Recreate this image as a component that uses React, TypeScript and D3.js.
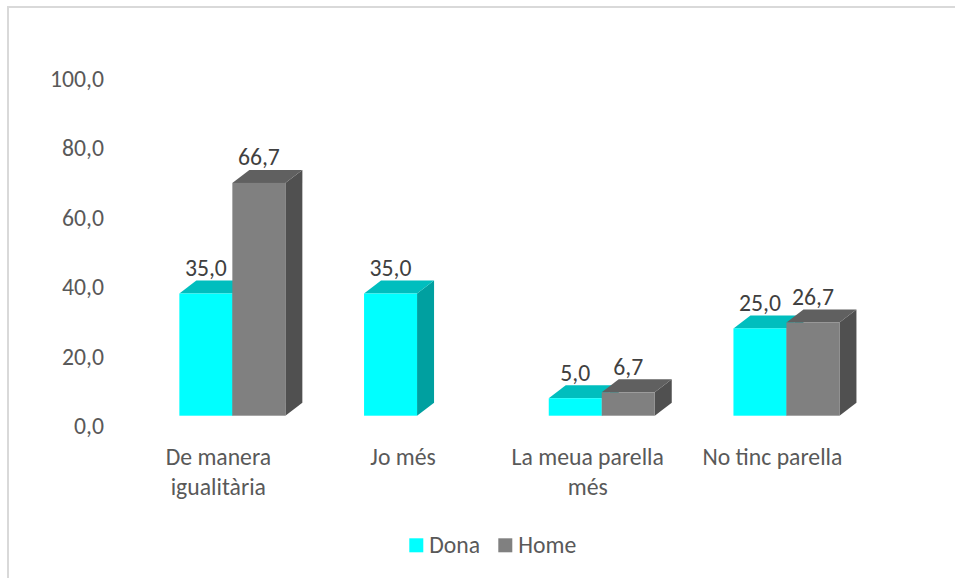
import React from "react";
import * as d3 from "d3";

const categories = ["De manera igualitària", "Jo més", "La meua parella més", "No tinc parella"];
const categoryLines = [["De manera", "igualitària"], ["Jo més"], ["La meua parella", "més"], ["No tinc parella"]];
const seriesNames = ["Dona", "Home"];
const donaValues: (number | null)[] = [35.0, 35.0, 5.0, 25.0];
const homeValues: (number | null)[] = [66.7, null, 6.7, 26.7];
const yTicks = [0, 20, 40, 60, 80, 100];

const W = 955;
const H = 578;
const FONT = "Carlito, Calibri, 'Open Sans', sans-serif";
const FS = 23.7;

const colors = [
  { front: "#00FFFF", top: "#00BEBE", side: "#00A0A0", legend: "#00FFFF" },
  { front: "#808080", top: "#606060", side: "#505050", legend: "#808080" },
];

export default function App() {
  const x = d3.scaleBand<string>().domain(categories).range([140, 878.8]).paddingInner(0).paddingOuter(0);
  const inner = d3.scaleBand<string>().domain(seriesNames).range([0, 106]);
  const yBar = d3.scaleLinear().domain([0, 100]).range([415.7, 66.7]);
  const yLab = d3.scaleLinear().domain([0, 100]).range([426.8, 79.3]);
  const dx = 17;
  const dy = 13;
  const series = [donaValues, homeValues];

  const bars: React.ReactNode[] = [];
  const labels: React.ReactNode[] = [];
  categories.forEach((c, ci) => {
    const groupStart = (x(c) as number) + x.bandwidth() / 2 - 53;
    series.forEach((vals, si) => {
      const v = vals[ci];
      if (v == null) return;
      const x0 = groupStart + (inner(seriesNames[si]) as number);
      const x1 = x0 + inner.bandwidth();
      const yt = yBar(v);
      const yb = yBar(0);
      const col = colors[si];
      bars.push(
        <g key={`b${ci}-${si}`}>
          <path d={`M${x1},${yt} L${x1 + dx},${yt - dy} L${x1 + dx},${yb - dy} L${x1},${yb} Z`} fill={col.side} />
          <path d={`M${x0},${yt} L${x0 + dx},${yt - dy} L${x1 + dx},${yt - dy} L${x1},${yt} Z`} fill={col.top} />
          <rect x={x0} y={yt} width={x1 - x0} height={yb - yt} fill={col.front} />
        </g>
      );
      labels.push(
        <text key={`l${ci}-${si}`} x={(x0 + x1) / 2} y={yt - 25 + 7.5} textAnchor="middle" fontSize={FS} fill="#404040" fontFamily={FONT}>
          {v.toFixed(1).replace(".", ",")}
        </text>
      );
    });
  });

  return (
    <svg width={W} height={H} style={{ position: "absolute", left: 0, top: 0, background: "#fff" }}>
      <rect x={0} y={0} width={W} height={H} fill="#fff" />
      <rect x={8} y={7} width={W + 20} height={H + 20} fill="none" stroke="#d9d9d9" strokeWidth={2} />
      {yTicks.map((t) => (
        <text key={t} x={104} y={yLab(t) + 7.5} textAnchor="end" fontSize={FS} fill="#595959" fontFamily={FONT}>
          {t.toFixed(1).replace(".", ",")}
        </text>
      ))}
      {bars}
      {labels}
      {categories.map((c, ci) => (
        <text key={c} textAnchor="middle" fontSize={FS} fill="#595959" fontFamily={FONT}>
          {categoryLines[ci].map((ln, li) => (
            <tspan key={li} x={(x(c) as number) + x.bandwidth() / 2 - 14} y={465 + li * 29.5}>
              {ln}
            </tspan>
          ))}
        </text>
      ))}
      {seriesNames.map((s, si) => {
        const lx = [409.3, 498.3][si];
        return (
          <g key={s}>
            <rect x={lx} y={538.3} width={14} height={14} fill={colors[si].legend} />
            <text x={lx + 20} y={553} fontSize={FS} fill="#595959" fontFamily={FONT}>
              {s}
            </text>
          </g>
        );
      })}
    </svg>
  );
}
